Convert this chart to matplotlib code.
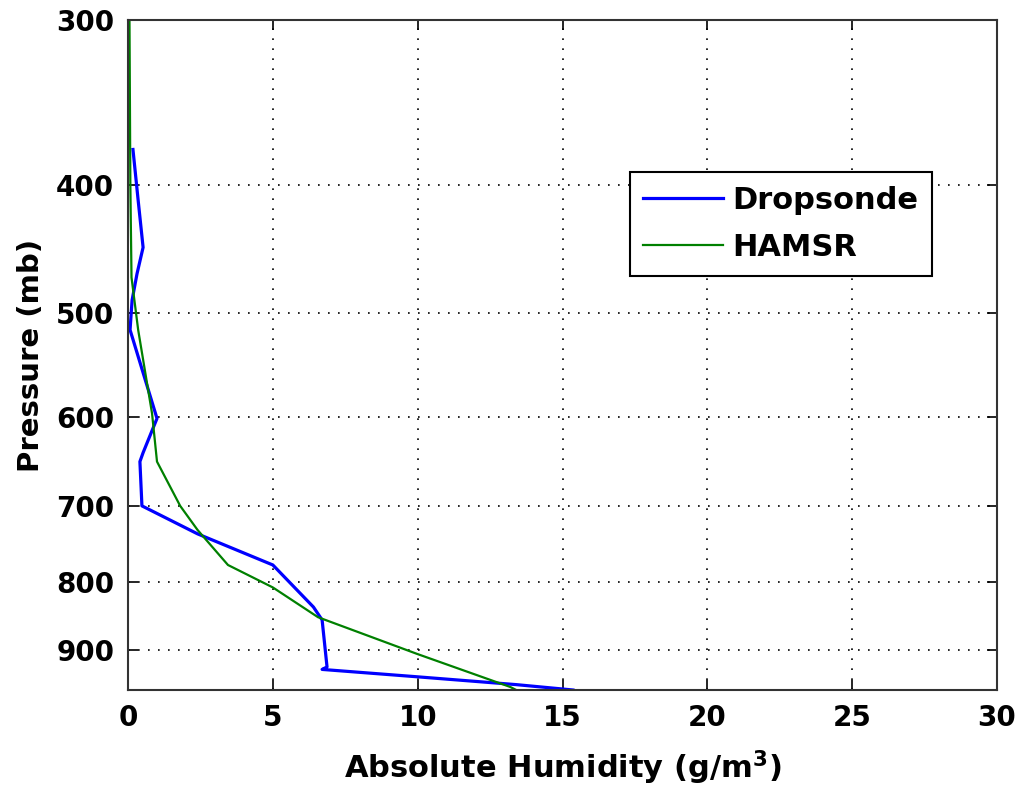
import numpy as np
import matplotlib
matplotlib.use("Agg")
import matplotlib.pyplot as plt
from matplotlib.ticker import FixedLocator, NullLocator

# values
drop_hum = [0.17, 0.35, 0.52, 0.31, 0.14, 0.07, 1.0, 0.52, 0.41, 0.48,
            2.4, 5.0, 6.4, 6.7, 6.87, 6.7, 9.97, 13.4, 15.36]
drop_p = [376, 411, 446, 467, 489, 515, 601, 638, 648, 700,
          735, 776, 835, 854, 927, 931, 943, 956, 965]

hamsr_hum = [0.05, 0.08, 0.12, 0.35, 0.83, 1.0, 1.8, 2.4, 3.45, 5.0,
             6.56, 9.97, 13.2, 13.4]
hamsr_p = [300, 400, 470, 515, 596, 648, 700, 730, 776, 807,
           850, 906, 960, 965]

p_ticks = [300, 400, 500, 600, 700, 800, 900]
x_ticks = [0, 5, 10, 15, 20, 25, 30]

plt.rcParams['font.family'] = ['DejaVu Sans']
plt.rcParams['font.weight'] = 'bold'

fig = plt.figure(figsize=(10.21, 7.93), dpi=100)
ax = fig.add_axes([0.1254, 0.1299, 0.8511, 0.8449])

ax.plot(drop_hum, drop_p, color='#0000ff', lw=2.3, label='Dropsonde')
ax.plot(hamsr_hum, hamsr_p, color='#008000', lw=1.6, label='HAMSR')

ax.set_yscale('log')
ax.set_ylim(965, 300)
ax.set_xlim(0, 30)
ax.yaxis.set_major_locator(FixedLocator(p_ticks))
ax.yaxis.set_minor_locator(NullLocator())
ax.set_yticklabels([str(p) for p in p_ticks])
ax.set_xticks(x_ticks)
ax.set_xticklabels([str(x) for x in x_ticks])

ax.tick_params(direction='in', length=7, width=1.2, labelsize=20,
               top=True, right=True, pad=10)
ax.grid(True, color='black', linestyle=(0, (1, 5)), linewidth=1.2)
for s in ax.spines.values():
    s.set_linewidth(1.5)
    s.set_color('#333333')

ax.set_xlabel('Absolute Humidity (g/m$^\\mathbf{3}$)', fontsize=22,
              fontweight='bold', labelpad=12)
ax.set_ylabel('Pressure (mb)', fontsize=21, fontweight='bold', labelpad=8)

leg = ax.legend(loc='upper right', bbox_to_anchor=(0.925, 0.773),
                fontsize=22, fancybox=False, framealpha=1,
                edgecolor='black', handlelength=2.6, borderpad=0.45,
                labelspacing=0.6, handletextpad=0.3, borderaxespad=0)
leg.get_frame().set_linewidth(1.5)
for t in leg.get_texts():
    t.set_fontweight('bold')

# title is mostly cut off at the top edge in the original
fig.text(0.55, 1.008, 'Absolute Humidity profile (g/m\u00b3) Dropsonde comparison',
         ha='center', va='baseline', fontsize=22, fontweight='bold')

fig.savefig('out.png', dpi=100)
